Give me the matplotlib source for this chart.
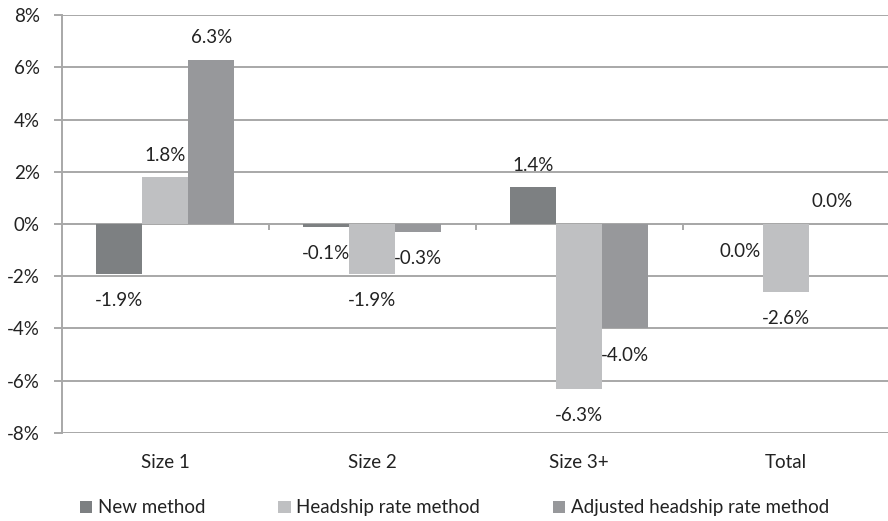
import matplotlib
matplotlib.use("Agg")
import matplotlib.pyplot as plt
import numpy as np

plt.rcParams['font.family'] = ['Lato', 'DejaVu Sans']

# percentage change by household size
categories = ['Size 1', 'Size 2', 'Size 3+', 'Total']
series_names = ['New method', 'Headship rate method', 'Adjusted headship rate method']
new_method = [-1.9, -0.1, 1.4, -0.004]
headship_rate = [1.8, -1.9, -6.3, -2.6]
adjusted_headship = [6.3, -0.3, -4.0, 0.004]
colors = ['#7d8082', '#bfc0c2', '#97989b']

fig = plt.figure(figsize=(8.88, 5.21), dpi=100)
ax = fig.add_axes([0.0698, 0.169, 0.932, 0.802])

x = np.arange(len(categories))
width = 1 / 4.5  # three bars per group, 150% gap
text_color = '#222222'
grid_color = '#a8a8a8'
fs = 13.5

for i, (vals, col, name) in enumerate(zip([new_method, headship_rate, adjusted_headship],
                                          colors, series_names)):
    pos = x + (i - 1) * width
    ax.bar(pos, vals, width, color=col, label=name, zorder=3)
    for px, v in zip(pos, vals):
        off = 22 if v >= 0 else -27
        ax.annotate(f"{round(v, 1) + 0:.1f}%", (px, v), xytext=(0, off),
                    textcoords='offset pixels', ha='center', va='center',
                    fontsize=fs, color=text_color, zorder=4)

ax.set_ylim(-8, 8)
ax.set_xlim(-0.5, len(categories) - 0.5)
ax.set_yticks(np.arange(-8, 9, 2))
ax.set_yticklabels([f"{t}%" for t in range(-8, 9, 2)])
ax.set_xticks(x)
ax.set_xticklabels(categories)
ax.grid(axis='y', color=grid_color, linewidth=1.4, zorder=0)
ax.axhline(0, color=grid_color, linewidth=1.4, zorder=2)

# small marks between categories on the zero line
ax.vlines(x[:-1] + 0.5, -0.22, 0, color=grid_color, linewidth=1.4, zorder=2)

for side in ['top', 'right', 'bottom']:
    ax.spines[side].set_visible(False)
ax.spines['left'].set_color(grid_color)
ax.spines['left'].set_linewidth(1.4)
ax.tick_params(axis='y', length=6, width=1.4, color=grid_color, labelsize=fs,
               labelcolor=text_color, pad=10)
ax.tick_params(axis='x', length=0, labelsize=fs, labelcolor=text_color, pad=15)

fig.legend(loc='center', bbox_to_anchor=(0.512, 0.025), ncol=3, frameon=False,
           fontsize=fs, handlelength=0.65, handleheight=0.65, handletextpad=0.3,
           columnspacing=3.9, labelcolor=text_color)

fig.savefig('out.png', dpi=100)
